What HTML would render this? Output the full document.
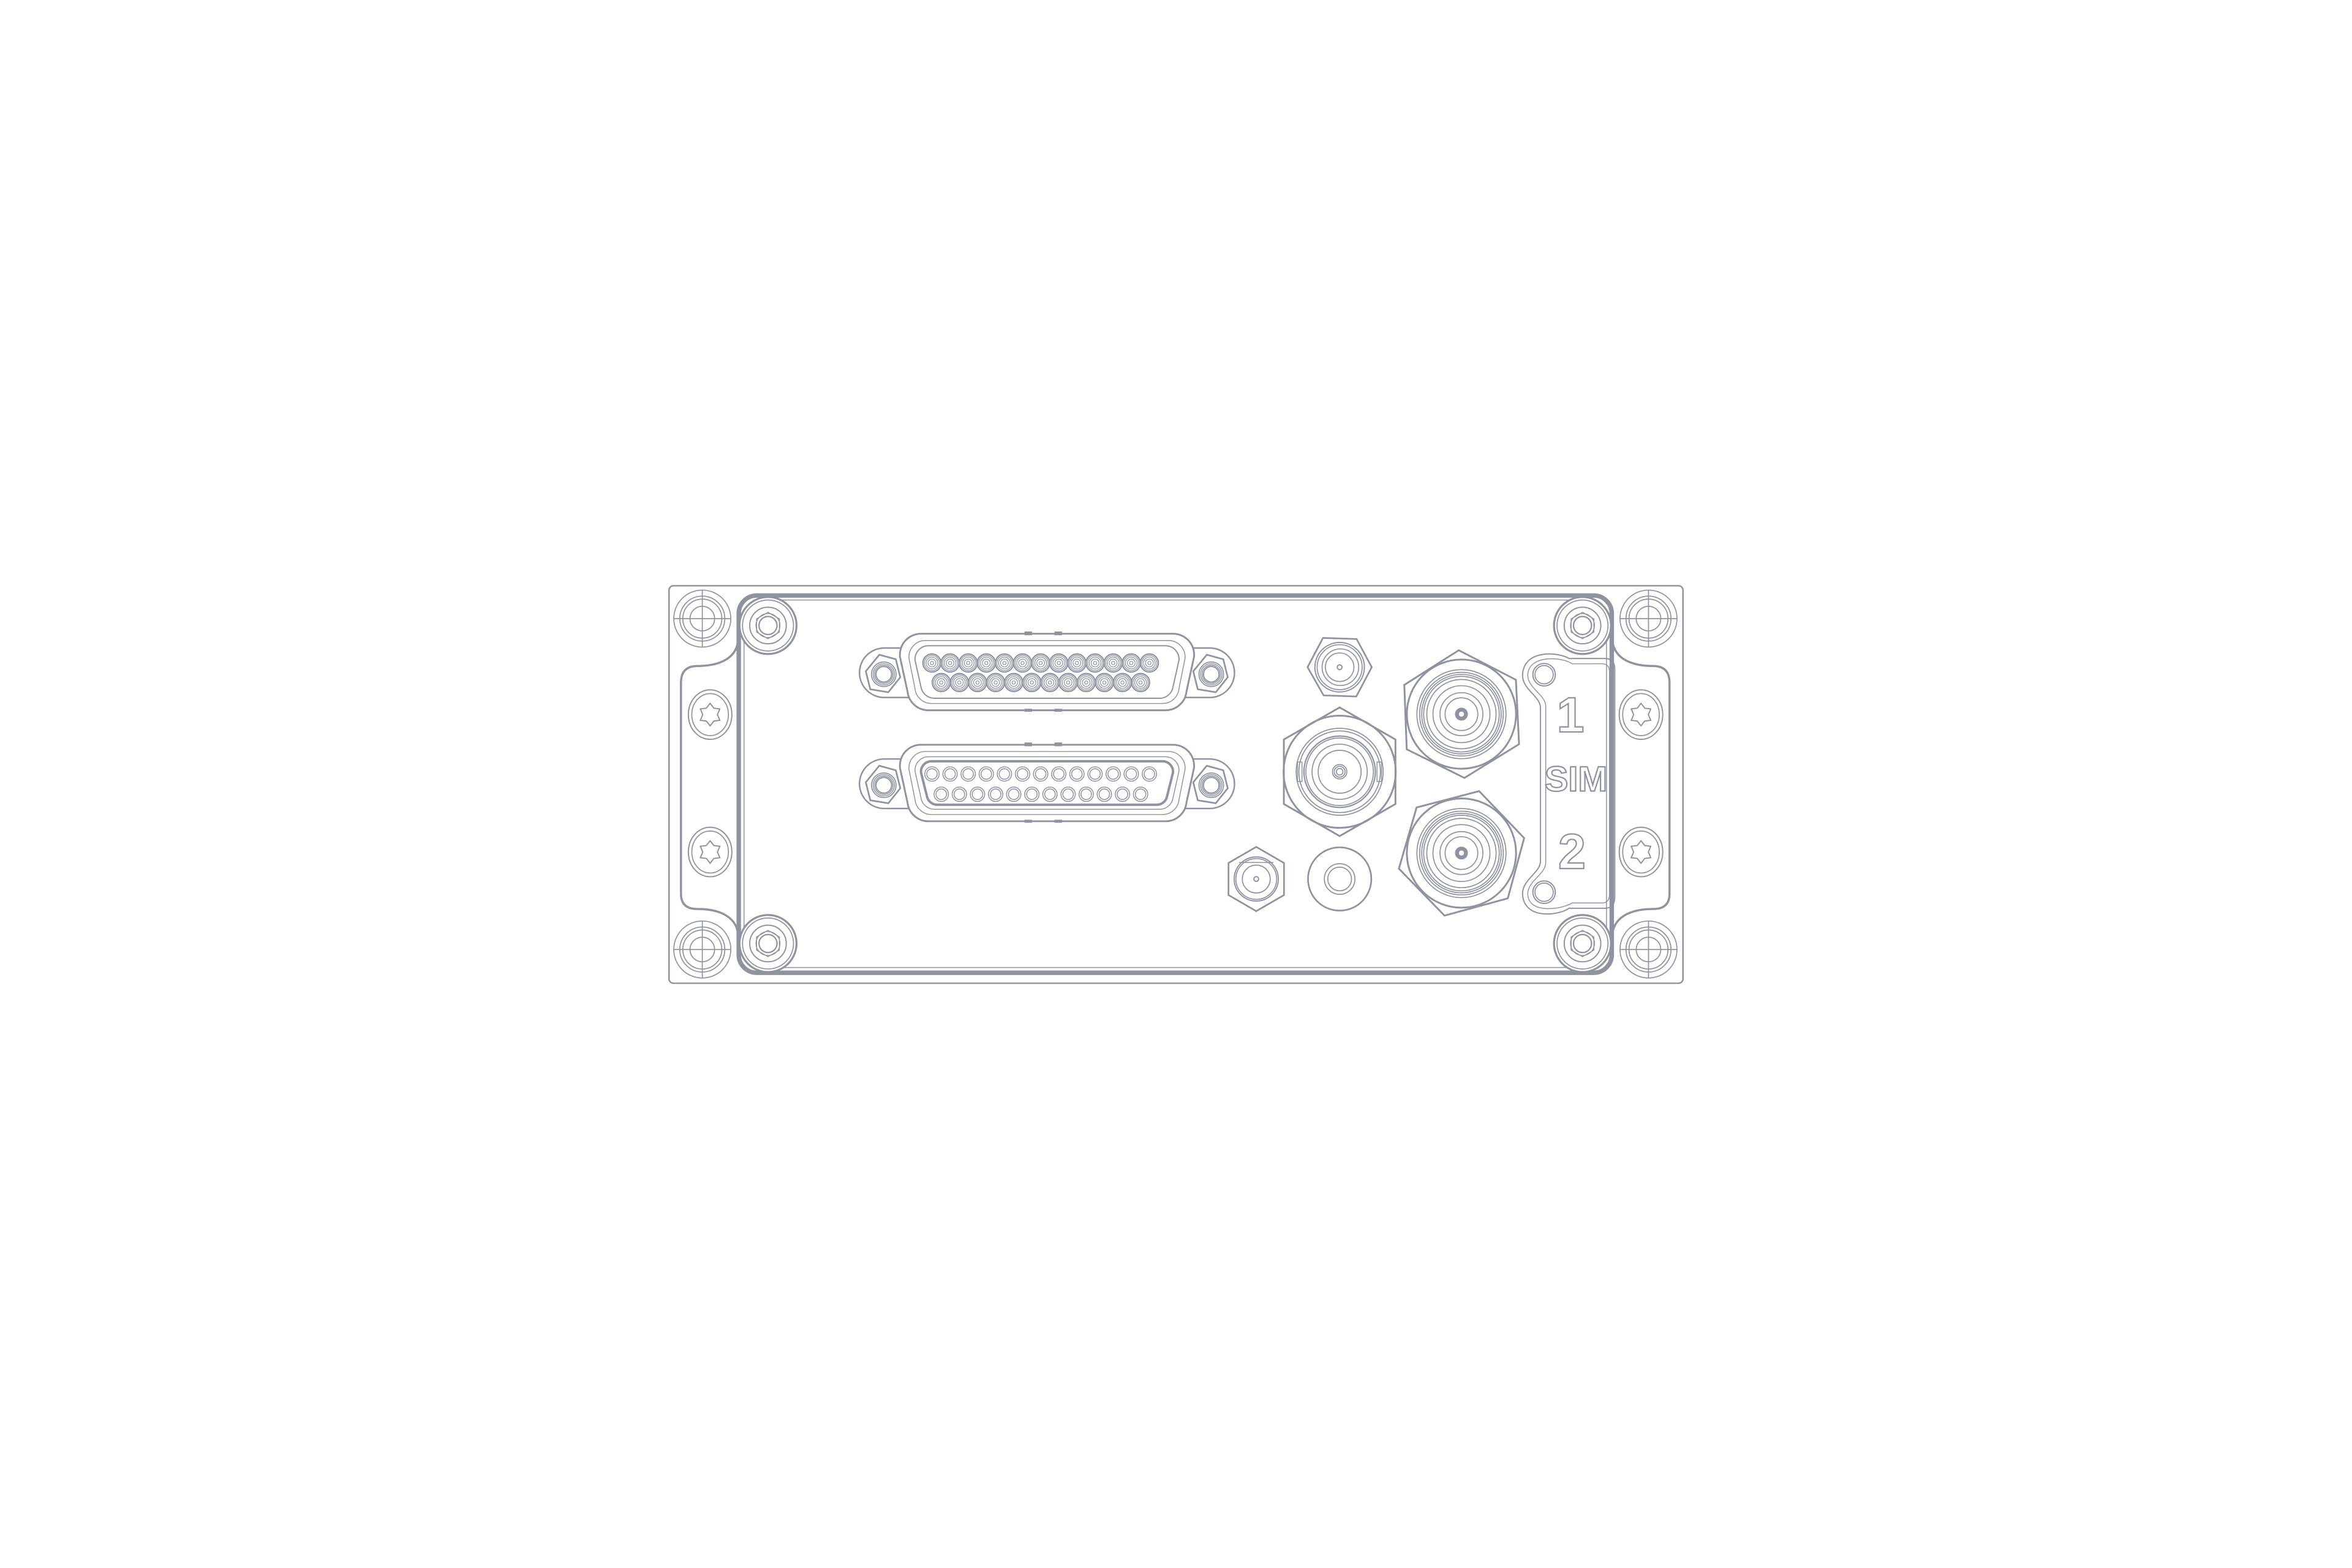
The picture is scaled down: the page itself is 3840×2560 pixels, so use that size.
<!DOCTYPE html>
<html><head><meta charset="utf-8"><style>
html,body{margin:0;padding:0;background:#fff;}
svg{display:block;}
</style></head><body>
<svg width="3840" height="2560" viewBox="0 0 1568 1045.33" xmlns="http://www.w3.org/2000/svg">
<defs>
<g id="cross" fill="none" stroke="#90939f" stroke-width="0.7">
  <circle r="19"/><circle r="15"/><circle r="13"/><circle r="8.2"/>
  <line x1="-19" y1="0" x2="19" y2="0"/><line x1="0" y1="-19" x2="0" y2="19"/>
</g>
<g id="pscrew" fill="#fff" stroke="#90939f">
  <circle r="19" stroke-width="1.3"/><circle r="17" stroke-width="0.7"/>
  <circle r="12.2" stroke-width="0.8"/>
  <polygon points="0,-8.8 7.6,-4.4 7.6,4.4 0,8.8 -7.6,4.4 -7.6,-4.4" fill="none" stroke-width="0.6"/>
  <circle r="8" fill="none" stroke-width="0.6"/>
  <circle r="6" fill="none" stroke-width="0.9"/>
</g>
<g id="torx" fill="#fff" stroke="#90939f">
  <ellipse rx="14.5" ry="16.5" stroke-width="0.8"/><ellipse rx="12.2" ry="14" stroke-width="0.7"/>
  <polygon fill="none" stroke-width="0.8" points="0,-7.5 2.5,-4.3 6.5,-3.8 4.9,0 6.5,3.8 2.5,4.3 0,7.5 -2.5,4.3 -6.5,3.8 -4.9,0 -6.5,-3.8 -2.5,-4.3"/>
</g>
<g id="ears" fill="#fff" stroke="#90939f">
  <rect x="573" y="432" width="250" height="33" rx="16.5" stroke-width="1"/>
</g>
<g id="earscrew" fill="none" stroke="#90939f">
  <polygon points="-3,-13 8,-10 11,2 3,12 -9,10 -12,-2" stroke-width="1.1"/>
  <circle r="8.2" stroke-width="0.7"/><circle r="7.1" stroke-width="0.6"/><circle r="6.1" stroke-width="0.6"/><circle r="5.2" stroke-width="0.8"/>
</g>
<path id="shell" d="M614,422.5 L782,422.5 A14 14 0 0 1 796,438 L791,461 A14 14 0 0 1 777,473.5 L619,473.5 A14 14 0 0 1 605,461 L600,438 A14 14 0 0 1 614,422.5 Z"/>
<g id="pinA" fill="none" stroke="#90939f">
  <circle r="6" stroke-width="0.9"/><circle r="5" stroke-width="0.5"/><circle r="3.9" stroke-width="0.5"/><circle r="2.6" stroke-width="0.5"/><circle r="1.1" stroke-width="0.5"/>
</g>
<g id="pinB" fill="none" stroke="#90939f">
  <circle r="4.8" stroke-width="0.6"/><circle r="3.5" stroke-width="0.6"/>
</g>
<g id="rowA13">
  <use href="#pinA" x="0"/><use href="#pinA" x="12.08"/><use href="#pinA" x="24.16"/><use href="#pinA" x="36.24"/><use href="#pinA" x="48.32"/><use href="#pinA" x="60.4"/><use href="#pinA" x="72.48"/><use href="#pinA" x="84.56"/><use href="#pinA" x="96.64"/><use href="#pinA" x="108.72"/><use href="#pinA" x="120.8"/><use href="#pinA" x="132.88"/><use href="#pinA" x="144.96"/>
</g>
<g id="rowA12">
  <use href="#pinA" x="0"/><use href="#pinA" x="12.08"/><use href="#pinA" x="24.16"/><use href="#pinA" x="36.24"/><use href="#pinA" x="48.32"/><use href="#pinA" x="60.4"/><use href="#pinA" x="72.48"/><use href="#pinA" x="84.56"/><use href="#pinA" x="96.64"/><use href="#pinA" x="108.72"/><use href="#pinA" x="120.8"/><use href="#pinA" x="132.88"/>
</g>
<g id="rowB13">
  <use href="#pinB" x="0"/><use href="#pinB" x="12.08"/><use href="#pinB" x="24.16"/><use href="#pinB" x="36.24"/><use href="#pinB" x="48.32"/><use href="#pinB" x="60.4"/><use href="#pinB" x="72.48"/><use href="#pinB" x="84.56"/><use href="#pinB" x="96.64"/><use href="#pinB" x="108.72"/><use href="#pinB" x="120.8"/><use href="#pinB" x="132.88"/><use href="#pinB" x="144.96"/>
</g>
<g id="rowB12">
  <use href="#pinB" x="0"/><use href="#pinB" x="12.08"/><use href="#pinB" x="24.16"/><use href="#pinB" x="36.24"/><use href="#pinB" x="48.32"/><use href="#pinB" x="60.4"/><use href="#pinB" x="72.48"/><use href="#pinB" x="84.56"/><use href="#pinB" x="96.64"/><use href="#pinB" x="108.72"/><use href="#pinB" x="120.8"/><use href="#pinB" x="132.88"/>
</g>
</defs>
<rect width="1568" height="1045.33" fill="#fff"/>

<rect x="446" y="390.5" width="676" height="265" rx="3" fill="none" stroke="#90939f" stroke-width="1"/>

<path d="M492,428 C490,440 478,444 465,444 Q454,444 454,455 L454,596 Q454,606 465,606 C478,606 490,610 492,622" fill="none" stroke="#90939f" stroke-width="1.4"/>
<path transform="translate(1567,0) scale(-1,1)" d="M492,428 C490,440 478,444 465,444 Q454,444 454,455 L454,596 Q454,606 465,606 C478,606 490,610 492,622" fill="none" stroke="#90939f" stroke-width="1.4"/>

<rect x="492.5" y="397" width="582" height="251.5" rx="12" fill="none" stroke="#90939f" stroke-width="3"/>
<rect x="496" y="400" width="575" height="245" rx="10" fill="none" stroke="#90939f" stroke-width="0.6"/>

<use href="#cross" x="468.2" y="412.4"/>
<use href="#cross" x="468.2" y="633"/>
<use href="#cross" x="1099" y="412.4"/>
<use href="#cross" x="1099" y="633"/>

<use href="#pscrew" x="512" y="417"/>
<use href="#pscrew" x="512" y="629"/>
<use href="#pscrew" x="1055" y="417"/>
<use href="#pscrew" x="1055" y="629"/>

<use href="#torx" x="473.4" y="476.4"/>
<use href="#torx" x="473.4" y="568"/>
<use href="#torx" x="1094" y="476.4"/>
<use href="#torx" x="1094" y="568"/>

<g>
  <use href="#ears"/>
  <use href="#earscrew" x="589.2" y="449.5"/>
  <use href="#earscrew" x="807.5" y="449.5"/>
  <use href="#shell" fill="#fff" stroke="#90939f" stroke-width="1.2"/>
  <path d="M617,427 L779,427 A11 11 0 0 1 790,439 L786,459 A11 11 0 0 1 775,469 L621,469 A11 11 0 0 1 610,459 L606,439 A11 11 0 0 1 617,427 Z" fill="none" stroke="#90939f" stroke-width="0.6"/>
  <path d="M619,430.5 L777,430.5 A9 9 0 0 1 786,440 L782,458 A9 9 0 0 1 773,465.5 L623,465.5 A9 9 0 0 1 614,458 L610,440 A9 9 0 0 1 619,430.5 Z" fill="none" stroke="#90939f" stroke-width="0.8"/>
  <rect x="683" y="421" width="5" height="2.5" fill="#90939f"/><rect x="703" y="421" width="5" height="2.5" fill="#90939f"/>
  <rect x="683" y="472.5" width="5" height="2" fill="#90939f"/><rect x="703" y="472.5" width="5" height="2" fill="#90939f"/>
  <use href="#rowA13" x="621.3" y="442"/>
  <use href="#rowA12" x="627.5" y="455"/>
</g>

<g transform="translate(0,74)">
  <use href="#ears"/>
  <use href="#earscrew" x="589.2" y="449.5"/>
  <use href="#earscrew" x="807.5" y="449.5"/>
  <use href="#shell" fill="#fff" stroke="#90939f" stroke-width="1.2"/>
  <path d="M617,427 L779,427 A11 11 0 0 1 790,439 L786,459 A11 11 0 0 1 775,469 L621,469 A11 11 0 0 1 610,459 L606,439 A11 11 0 0 1 617,427 Z" fill="none" stroke="#90939f" stroke-width="0.6"/>
  <path d="M619,430.5 L777,430.5 A9 9 0 0 1 786,440 L782,458 A9 9 0 0 1 773,465.5 L623,465.5 A9 9 0 0 1 614,458 L610,440 A9 9 0 0 1 619,430.5 Z" fill="none" stroke="#90939f" stroke-width="0.6"/>
  <path d="M621,433.5 L775,433.5 A7 7 0 0 1 782,441 L778,457 A7 7 0 0 1 771,462.5 L625,462.5 A7 7 0 0 1 618,457 L614,441 A7 7 0 0 1 621,433.5 Z" fill="none" stroke="#90939f" stroke-width="1.6"/>
  <rect x="683" y="421" width="5" height="2.5" fill="#90939f"/><rect x="703" y="421" width="5" height="2.5" fill="#90939f"/>
  <rect x="683" y="472.5" width="5" height="2" fill="#90939f"/><rect x="703" y="472.5" width="5" height="2" fill="#90939f"/>
  <use href="#rowB13" x="621.3" y="442"/>
  <use href="#rowB12" x="627.5" y="455.5"/>
</g>

<g fill="none" stroke="#90939f">
  <polygon points="871.7,444.8 882,425.3 904.4,426 914.5,444.8 904.2,464.3 882.4,463.6" stroke-width="1.1"/>
  <circle cx="893.1" cy="444.8" r="16.5" stroke-width="0.8"/>
  <circle cx="893.1" cy="444.8" r="15" stroke-width="0.7"/>
  <circle cx="893.6" cy="444.8" r="12.2" stroke-width="0.7"/>
  <circle cx="893.1" cy="444.8" r="9.5" stroke-width="0.7"/>
  <circle cx="893.1" cy="444.8" r="1.6" stroke-width="0.8"/>
</g>

<g fill="none" stroke="#90939f">
  <polygon points="893.1,471.6 930.3,493 930.3,536 893.1,557.4 855.9,536 855.9,493" stroke-width="1.2"/>
  <circle cx="893.1" cy="514.5" r="37.4" stroke-width="1.2"/>
  <circle cx="893.1" cy="514.5" r="29" stroke-width="0.7"/>
  <circle cx="893.1" cy="514.5" r="27.2" stroke-width="0.7"/>
  <circle cx="893.1" cy="514.5" r="23.8" stroke-width="0.9"/>
  <circle cx="893.1" cy="514.5" r="22.5" stroke-width="0.7"/>
  <circle cx="893.1" cy="514.5" r="18.4" stroke-width="0.7"/>
  <circle cx="893.1" cy="514.5" r="14.3" stroke-width="0.7"/>
  <circle cx="893.1" cy="514.5" r="4.8" stroke-width="0.7"/>
  <circle cx="893.1" cy="514.5" r="3.6" stroke-width="0.7"/>
  <circle cx="893.1" cy="514.5" r="2.2" stroke-width="0.7"/>
  <rect x="865" y="508" width="3" height="13" stroke-width="0.6"/>
  <rect x="918" y="508" width="3" height="13" stroke-width="0.6"/>
</g>

<g fill="none" stroke="#90939f">
  <polygon points="972.5,433.5 1010.6,453.2 1012.7,496.1 976.3,518.6 937.8,499.5 936.2,456.6" stroke-width="1.2"/>
  <circle cx="974.3" cy="476.1" r="36.4" stroke-width="1.2"/>
  <circle cx="974.3" cy="476.1" r="29.7" stroke-width="0.7"/>
  <circle cx="974.3" cy="476.1" r="27.9" stroke-width="0.7"/>
  <circle cx="974.3" cy="476.1" r="26.5" stroke-width="0.7"/>
  <circle cx="974.3" cy="476.1" r="25.2" stroke-width="0.7"/>
  <circle cx="974.3" cy="476.1" r="23.1" stroke-width="0.7"/>
  <circle cx="974.3" cy="476.1" r="19" stroke-width="0.7"/>
  <circle cx="974.3" cy="476.1" r="14.3" stroke-width="0.7"/>
  <circle cx="974.3" cy="476.1" r="10.9" stroke-width="0.7"/>
  <circle cx="974.3" cy="476.1" r="3" stroke-width="2.6"/>
</g>

<g fill="none" stroke="#90939f">
  <polygon points="986.1,527.4 1016.1,558.7 1005.2,598.9 963,610.4 932.6,579.1 944.4,538.3" stroke-width="1.2"/>
  <circle cx="974.3" cy="568.7" r="36.4" stroke-width="1.2"/>
  <circle cx="974.3" cy="568.7" r="29.7" stroke-width="0.7"/>
  <circle cx="974.3" cy="568.7" r="27.9" stroke-width="0.7"/>
  <circle cx="974.3" cy="568.7" r="26.5" stroke-width="0.7"/>
  <circle cx="974.3" cy="568.7" r="25.2" stroke-width="0.7"/>
  <circle cx="974.3" cy="568.7" r="23.1" stroke-width="0.7"/>
  <circle cx="974.3" cy="568.7" r="19" stroke-width="0.7"/>
  <circle cx="974.3" cy="568.7" r="14.3" stroke-width="0.7"/>
  <circle cx="974.3" cy="568.7" r="10.9" stroke-width="0.7"/>
  <circle cx="974.3" cy="568.7" r="3" stroke-width="2.6"/>
</g>

<g fill="none" stroke="#90939f">
  <polygon points="837.5,564.6 856,575.3 856,596.7 837.5,607.4 819,596.7 819,575.3" stroke-width="1.1"/>
  <circle cx="837.5" cy="586" r="14.7" stroke-width="0.8"/>
  <circle cx="837.5" cy="586" r="13.6" stroke-width="0.7"/>
  <circle cx="837.5" cy="586" r="9.3" stroke-width="0.7"/>
  <circle cx="837.5" cy="586" r="1.6" stroke-width="0.8"/>
  <path d="M826,575 L849,575" stroke-width="0.6"/>
</g>

<g fill="none" stroke="#90939f">
  <circle cx="893.1" cy="586" r="21.1" stroke-width="1.1"/>
  <circle cx="893.1" cy="586" r="10.2" stroke-width="0.7"/>
  <circle cx="893.1" cy="586" r="7.9" stroke-width="0.7"/>
</g>

<g fill="none" stroke="#90939f">
  <path d="M1046,439 L1070,439 Q1076.5,439 1076.5,446 L1076.5,598 Q1076.5,605.5 1070,605.5 L1046,605.5 C1040,610 1016,614 1015,596 C1015,586 1027,582 1027,574 L1027,472 C1027,464 1015,460 1015,450 C1016,432 1040,435 1046,439 Z" stroke-width="0.8"/>
  <path d="M1048,442.5 L1068,442.5 Q1073,442.5 1073,448 L1073,596 Q1073,602 1068,602 L1048,602 C1042,606 1019,610 1018.5,596 C1018.5,587 1030.5,583 1030.5,575 L1030.5,471 C1030.5,463 1018.5,459 1018.5,450 C1019,436 1042,438 1048,442.5 Z" stroke-width="0.6"/>
  <circle cx="1029.4" cy="449.8" r="7.5" stroke-width="0.8"/>
  <circle cx="1029.4" cy="449.8" r="6.1" stroke-width="0.7"/>
  <circle cx="1029.4" cy="594.8" r="7.5" stroke-width="0.8"/>
  <circle cx="1029.4" cy="594.8" r="6.1" stroke-width="0.7"/>
</g>
<g font-family="'Liberation Sans', sans-serif" font-weight="bold" fill="#fff" stroke="#90939f" stroke-width="0.9" text-anchor="middle">
  <text x="1047" y="488" font-size="33">1</text>
  <text x="1050.7" y="527.4" font-size="23.5">SIM</text>
  <text x="1048" y="579" font-size="33">2</text>
</g>
</svg>
</body></html>
